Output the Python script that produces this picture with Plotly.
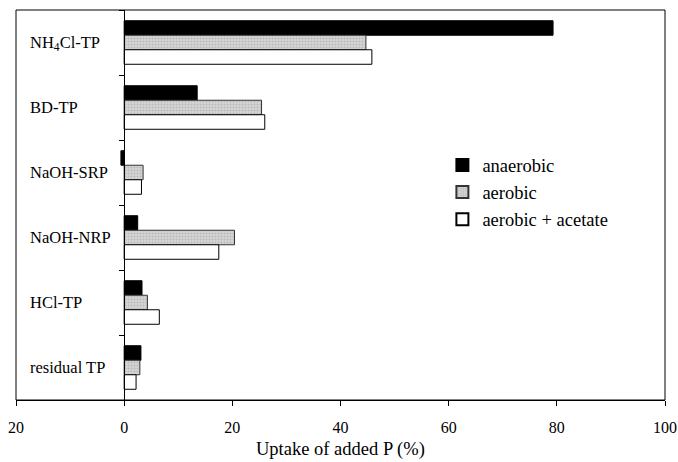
import plotly.graph_objects as go

categories = ["NH<sub>4</sub>Cl-TP", "BD-TP", "NaOH-SRP", "NaOH-NRP", "HCl-TP", "residual TP"]
anaerobic = [79.3, 13.5, -0.6, 2.5, 3.3, 3.1]
aerobic = [44.7, 25.4, 3.5, 20.4, 4.3, 2.9]
aerobic_acetate = [45.8, 26.0, 3.2, 17.5, 6.5, 2.2]
x_tickvals = [-20, 0, 20, 40, 60, 80, 100]
x_ticktext = ["20", "0", "20", "40", "60", "80", "100"]
x_title = "Uptake of added P (%)"

FONT = "Liberation Serif, Times New Roman, serif"

fig = go.Figure()
fig.add_trace(go.Bar(y=categories, x=anaerobic, orientation="h", name="anaerobic", legendgroup="a",
                     marker=dict(color="black", line=dict(color="black", width=1))))
fig.add_trace(go.Bar(y=categories, x=aerobic, orientation="h", name="aerobic", legendgroup="b",
                     marker=dict(color="#c9c9c9", line=dict(color="#333333", width=1),
                                 pattern=dict(shape=".", fgcolor="#9a9a9a", bgcolor="#d6d6d6", size=3, solidity=0.4))))
fig.add_trace(go.Bar(y=categories, x=aerobic_acetate, orientation="h", name="aerobic + acetate", legendgroup="c",
                     marker=dict(color="white", line=dict(color="black", width=1))))

for c in categories:
    fig.add_annotation(x=-17.8, y=c, xref="x", yref="y", text=c, showarrow=False,
                       xanchor="left", yanchor="middle", font=dict(family=FONT, size=16.5, color="black"))

fig.add_annotation(x=0.5, y=-0.127, xref="paper", yref="paper", text=x_title, showarrow=False,
                   xanchor="center", yanchor="middle", font=dict(family=FONT, size=18.5, color="black"))

fig.add_shape(type="rect", xref="paper", yref="paper", x0=0, x1=1, y0=0, y1=1,
              line=dict(color="black", width=1))

fig.update_layout(
    width=678, height=462,
    margin=dict(l=16, r=13, t=10, b=62),
    paper_bgcolor="white", plot_bgcolor="white",
    barmode="group", bargap=0.33, bargroupgap=0,
    font=dict(family=FONT, size=16, color="black"),
    showlegend=True,
    legend=dict(x=0.657, y=0.65, xanchor="left", yanchor="top", traceorder="grouped",
                bgcolor="rgba(0,0,0,0)", font=dict(family=FONT, size=18.5), itemsizing="constant",
                tracegroupgap=0),
    xaxis=dict(range=[-20, 100], tickvals=x_tickvals, ticktext=x_ticktext,
               showgrid=False, zeroline=False, showline=True, linecolor="black",
               ticks="outside", ticklen=5, tickcolor="black", ticklabelstandoff=8,
               ticklabeloverflow="hide past div", automargin=False,
               tickfont=dict(family=FONT, size=16)),
    yaxis=dict(categoryorder="array", categoryarray=categories, range=[5.5, -0.5],
               anchor="free", position=1/6, showline=True, linecolor="black",
               ticks="outside", tickson="boundaries", ticklen=5, tickcolor="black",
               showticklabels=False, showgrid=False, zeroline=False, automargin=False),
)

fig.write_html("out.html")
